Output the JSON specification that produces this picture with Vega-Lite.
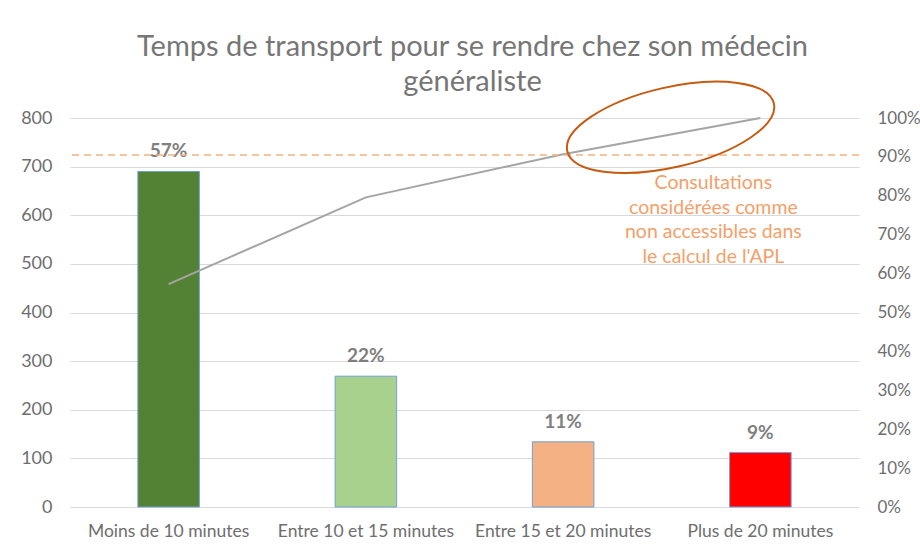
{
  "$schema": "https://vega.github.io/schema/vega-lite/v6.json",
  "autosize": {"type": "none"},
  "padding": {"left": 70, "top": 118, "right": 61, "bottom": 39},
  "width": 789,
  "height": 389,
  "background": "white",
  "title": {
    "text": ["Temps de transport pour se rendre chez son médecin", "généraliste"],
    "font": "Lato",
    "fontSize": 29,
    "fontWeight": "normal",
    "color": "#767676",
    "lineHeight": 35,
    "anchor": "middle",
    "frame": "group",
    "dx": 8,
    "offset": -19
  },
  "config": {
    "view": {"stroke": null},
    "font": "Lato"
  },
  "datasets": {
    "main": [
      {"cat": "Moins de 10 minutes", "count": 690, "pct": "57%", "cum": 0.573},
      {"cat": "Entre 10 et 15 minutes", "count": 269, "pct": "22%", "cum": 0.796},
      {"cat": "Entre 15 et 20 minutes", "count": 134, "pct": "11%", "cum": 0.907},
      {"cat": "Plus de 20 minutes", "count": 112, "pct": "9%", "cum": 1.0}
    ],
    "note": [
      {"cat": "Plus de 20 minutes", "count": 666, "label": ["Consultations", "considérées comme", "non accessibles dans", "le calcul de l'APL"]}
    ],
    "threshold": [{"cum": 0.905}],
    "circle": [{"cat": "Plus de 20 minutes", "cum": 0.976}]
  },
  "encoding": {
    "x": {
      "field": "cat",
      "type": "nominal",
      "sort": null,
      "scale": {"domain": ["Moins de 10 minutes", "Entre 10 et 15 minutes", "Entre 15 et 20 minutes", "Plus de 20 minutes"], "paddingInner": 0.688, "paddingOuter": 0.344},
      "axis": {
        "title": null,
        "labelAngle": 0,
        "labelFont": "Lato",
        "labelFontSize": 17.5,
        "labelColor": "#6e6e6e",
        "labelPadding": 15,
        "labelOverlap": false,
        "domain": false,
        "ticks": false
      }
    }
  },
  "layer": [
    {
      "encoding": {
        "y": {
          "field": "count",
          "type": "quantitative",
          "scale": {"domain": [0, 800], "nice": false},
          "axis": {
            "title": null,
            "values": [0, 100, 200, 300, 400, 500, 600, 700, 800],
            "grid": true,
            "gridColor": "#D9D9D9",
            "gridWidth": 1,
            "domain": false,
            "ticks": false,
            "labelOverlap": false,
            "labelFont": "Lato",
            "labelFontSize": 18,
            "labelColor": "#6e6e6e",
            "labelPadding": 18
          }
        }
      },
      "layer": [
        {
          "data": {"name": "main"},
          "mark": {"type": "bar", "stroke": "#6FA0D8", "strokeWidth": 1},
          "encoding": {
            "color": {
              "field": "cat",
              "type": "nominal",
              "scale": {
                "domain": ["Moins de 10 minutes", "Entre 10 et 15 minutes", "Entre 15 et 20 minutes", "Plus de 20 minutes"],
                "range": ["#548235", "#A9D18E", "#F4B183", "#FF0000"]
              },
              "legend": null
            }
          }
        },
        {
          "data": {"name": "main"},
          "mark": {"type": "text", "font": "Lato", "fontSize": 19, "fontWeight": "bold", "color": "#7F7F7F", "baseline": "middle", "dy": -20},
          "encoding": {
            "text": {"field": "pct"}
          }
        },
        {
          "data": {"name": "note"},
          "mark": {"type": "text", "font": "Lato", "fontSize": 19.5, "color": "#F4A06A", "baseline": "middle", "align": "center", "lineHeight": 24.5, "dx": -47},
          "encoding": {
            "text": {"field": "label"}
          }
        }
      ]
    },
    {
      "encoding": {
        "y": {
          "field": "cum",
          "type": "quantitative",
          "scale": {"domain": [0, 1], "nice": false},
          "axis": {
            "title": null,
            "orient": "right",
            "format": ".0%",
            "values": [0, 0.1, 0.2, 0.3, 0.4, 0.5, 0.6, 0.7, 0.8, 0.9, 1.0],
            "labelOverlap": false,
            "grid": false,
            "domain": false,
            "ticks": false,
            "labelFont": "Lato",
            "labelFontSize": 17,
            "labelColor": "#6e6e6e",
            "labelPadding": 18
          }
        }
      },
      "layer": [
        {
          "data": {"name": "main"},
          "mark": {"type": "line", "color": "#A5A5A5", "strokeWidth": 2}
        },
        {
          "data": {"name": "threshold"},
          "mark": {"type": "rule", "color": "#F4B183", "strokeWidth": 1.5, "strokeDash": [7, 5]},
          "encoding": {
            "x": null
          }
        },
        {
          "data": {"name": "circle"},
          "mark": {
            "type": "point",
            "filled": false,
            "shape": "M1,0C1,0.2082 0.5523,0.377 0,0.377C-0.5523,0.377 -1,0.2082 -1,0C-1,-0.2082 -0.5523,-0.377 0,-0.377C0.5523,-0.377 1,-0.2082 1,0Z",
            "size": 44944,
            "angle": -13,
            "stroke": "#C55A11",
            "strokeWidth": 2,
            "opacity": 1
          },
          "encoding": {
            "xOffset": {"value": -59}
          }
        }
      ]
    }
  ],
  "resolve": {"scale": {"y": "independent"}}
}
